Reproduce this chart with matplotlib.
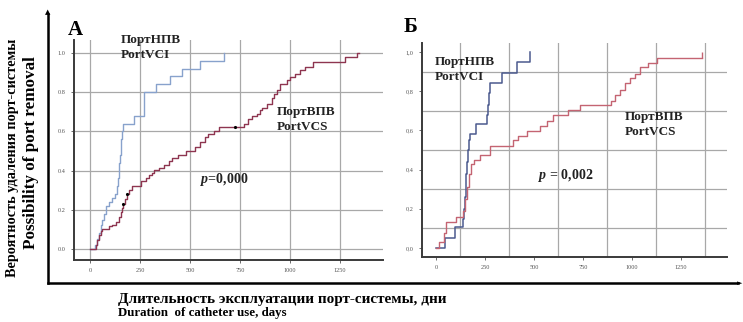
import numpy as np
import matplotlib.pyplot as plt

plt.rcParams["font.family"] = ["Liberation Serif", "DejaVu Serif"]
plt.rcParams["mathtext.fontset"] = "custom"
plt.rcParams["mathtext.it"] = "Liberation Serif:bold:italic"

# cumulative probability of port removal, panel A
a_vci_days = [0, 25, 35, 45, 55, 62, 72, 82, 95, 110, 125, 135, 140, 143, 147, 150, 153, 156,
              160, 165, 220, 268, 270, 272, 328, 398, 460, 550, 668]
a_vci_prob = [0, 0.02, 0.05, 0.08, 0.12, 0.15, 0.18, 0.22, 0.24, 0.26, 0.28, 0.32, 0.36, 0.40,
              0.44, 0.48, 0.52, 0.56, 0.60, 0.64, 0.68, 0.72, 0.76, 0.80, 0.84, 0.88, 0.92, 0.96, 1.0]
a_vcs_days = [0, 28, 37, 45, 53, 62, 95, 112, 128, 145, 153, 160, 167, 175, 183, 195, 212, 253,
              278, 295, 312, 320, 345, 370, 395, 412, 440, 480, 525, 550, 575, 592, 620, 645,
              770, 790, 808, 833, 850, 858, 883, 908, 920, 933, 950, 983, 1000, 1025, 1050,
              1075, 1117, 1275, 1333, 1345]
a_vcs_prob = [0, 0.02, 0.045, 0.07, 0.09, 0.10, 0.115, 0.125, 0.14, 0.165, 0.19, 0.21, 0.23,
              0.255, 0.28, 0.30, 0.32, 0.345, 0.36, 0.38, 0.39, 0.405, 0.415, 0.43, 0.45, 0.465,
              0.48, 0.50, 0.52, 0.545, 0.57, 0.585, 0.60, 0.62, 0.64, 0.665, 0.68, 0.69, 0.71,
              0.72, 0.74, 0.77, 0.79, 0.81, 0.84, 0.86, 0.875, 0.895, 0.915, 0.93, 0.955, 0.98,
              1.0, 1.0]
a_vcs_censored = [167, 187, 725]

# panel Б
b_vci_days = [0, 45, 95, 140, 145, 150, 153, 156, 160, 163, 167, 172, 205, 262, 266, 270, 275,
              335, 412, 480]
b_vci_prob = [0, 0.05, 0.105, 0.15, 0.2, 0.26, 0.32, 0.38, 0.44, 0.5, 0.55, 0.58, 0.635, 0.68,
              0.73, 0.79, 0.84, 0.895, 0.95, 1.0]
b_vcs_days = [0, 17, 42, 50, 100, 138, 150, 158, 167, 180, 192, 225, 275, 392, 417, 463, 531,
              565, 599, 675, 735, 893, 913, 939, 964, 990, 1016, 1041, 1084, 1126, 1355]
b_vcs_prob = [0, 0.03, 0.075, 0.135, 0.16, 0.19, 0.25, 0.31, 0.38, 0.43, 0.45, 0.475, 0.52, 0.55,
              0.57, 0.595, 0.62, 0.65, 0.68, 0.705, 0.73, 0.75, 0.78, 0.805, 0.84, 0.865, 0.89,
              0.925, 0.945, 0.97, 0.97]

x_ticks = [0, 250, 500, 750, 1000, 1250]
y_ticks = [0.0, 0.2, 0.4, 0.6, 0.8, 1.0]

fig = plt.figure(figsize=[7.43, 3.22], dpi=100)


def style_axes(ax, comma):
    for s in ["top", "right"]:
        ax.spines[s].set_visible(False)
    for s in ["left", "bottom"]:
        ax.spines[s].set_color("#3a3a3a")
        ax.spines[s].set_linewidth(1.4)
    ax.set_xticks(x_ticks)
    ax.set_yticks(y_ticks)
    if comma:
        ax.set_yticklabels([("%.1f" % v).replace(".", ",") for v in y_ticks])
    else:
        ax.set_yticklabels(["%.1f" % v for v in y_ticks])
    ax.tick_params(labelsize=4.5, labelcolor="#555555", length=2, width=0.6, color="#555555", pad=4)


#### Panel A
axA = fig.add_axes([74 / 743, 1 - 260 / 322, 309 / 743, 220 / 322])
axA.set_xlim([-80, 1465])
axA.set_ylim([-0.056, 1.066])
for v in x_ticks:
    axA.axvline(v, color="#a8a8a8", lw=0.9, zorder=0)
for v in y_ticks:
    axA.axhline(v, color="#a8a8a8", lw=0.9, zorder=0)
axA.step(a_vci_days, a_vci_prob, where="post", color="#88a2cc", lw=1.0)
axA.step(a_vcs_days, a_vcs_prob, where="post", color="#8e3550", lw=1.0)
cens_y = [a_vcs_prob[np.searchsorted(a_vcs_days, d, side="right") - 1] for d in a_vcs_censored]
axA.plot(a_vcs_censored, cens_y, "k.", markersize=2.5)
style_axes(axA, comma=False)

#### Panel Б
axB = fig.add_axes([422 / 743, 1 - 257 / 322, 305 / 743, 214 / 322])
axB.set_xlim([-71, 1485])
axB.set_ylim([-0.046, 1.046])
for v in [125, 375, 625, 875, 1125, 1375]:
    axB.axvline(v, color="#a8a8a8", lw=0.9, zorder=0)
for v in [0.1, 0.3, 0.5, 0.7, 0.9]:
    axB.axhline(v, color="#a8a8a8", lw=0.9, zorder=0)
axB.step(b_vci_days, b_vci_prob, where="post", color="#4b5a8e", lw=1.1)
axB.step(b_vcs_days, b_vcs_prob, where="post", color="#c46472", lw=1.0)
axB.plot(b_vcs_days[-1], b_vcs_prob[-1] + 0.015, "|", color="#c46472", markersize=5, mew=1.0)
style_axes(axB, comma=True)

# group names and p-values
bold = dict(fontweight="bold", color="#222222")
fig.text(121 / 743, 1 - 34 / 322, "ПортНПВ\nPortVCI", fontsize=9.5, va="top", ha="left",
         linespacing=1.3, **bold)
fig.text(277 / 743, 1 - 106 / 322, "ПортВПВ\nPortVCS", fontsize=9.5, va="top", ha="left",
         linespacing=1.3, **bold)
fig.text(200 / 743, 1 - 180 / 322, r"$p$=0,000", fontsize=10, va="center", ha="left", **bold)
fig.text(435 / 743, 1 - 56 / 322, "ПортНПВ\nPortVCI", fontsize=9.5, va="top", ha="left",
         linespacing=1.3, **bold)
fig.text(625 / 743, 1 - 111 / 322, "ПортВПВ\nPortVCS", fontsize=9.5, va="top", ha="left",
         linespacing=1.3, **bold)
fig.text(538 / 743, 1 - 176 / 322, r"$p$ = 0,002", fontsize=10, va="center", ha="left", **bold)

# panel letters
fig.text(68 / 743, 1 - 30 / 322, "А", fontsize=15, fontweight="bold", va="center", ha="left")
fig.text(404 / 743, 1 - 27 / 322, "Б", fontsize=15, fontweight="bold", va="center", ha="left")

# outer axes with arrows
fig.add_artist(plt.Line2D([48 / 743, 738 / 743], [1 - 283 / 322, 1 - 283 / 322],
                          color="black", lw=1.8, transform=fig.transFigure))
fig.add_artist(plt.Line2D([48 / 743, 48 / 743], [1 - 283 / 322, 1 - 14 / 322],
                          color="black", lw=1.8, transform=fig.transFigure))
fig.text(48 / 743, 1 - 12 / 322, "▲", fontsize=5, ha="center", va="center", family="DejaVu Sans")
fig.text(740 / 743, 1 - 283 / 322, "►", fontsize=5, ha="center", va="center", family="DejaVu Sans")

# axis titles
fig.text(13 / 743, 1 - 158 / 322, "Вероятность удаления порт-системы", rotation=90,
         fontsize=10.3, fontweight="bold", ha="center", va="center")
fig.text(31 / 743, 1 - 153 / 322, "Possibility of port removal", rotation=90,
         fontsize=12.3, fontweight="bold", ha="center", va="center")
fig.text(118 / 743, 1 - 299 / 322, "Длительность эксплуатации порт-системы, дни",
         fontsize=11, fontweight="bold", ha="left", va="center")
fig.text(118 / 743, 1 - 313 / 322, "Duration  of catheter use, days",
         fontsize=9.3, fontweight="bold", ha="left", va="center")

plt.savefig("out.png", dpi=100)
plt.close()
